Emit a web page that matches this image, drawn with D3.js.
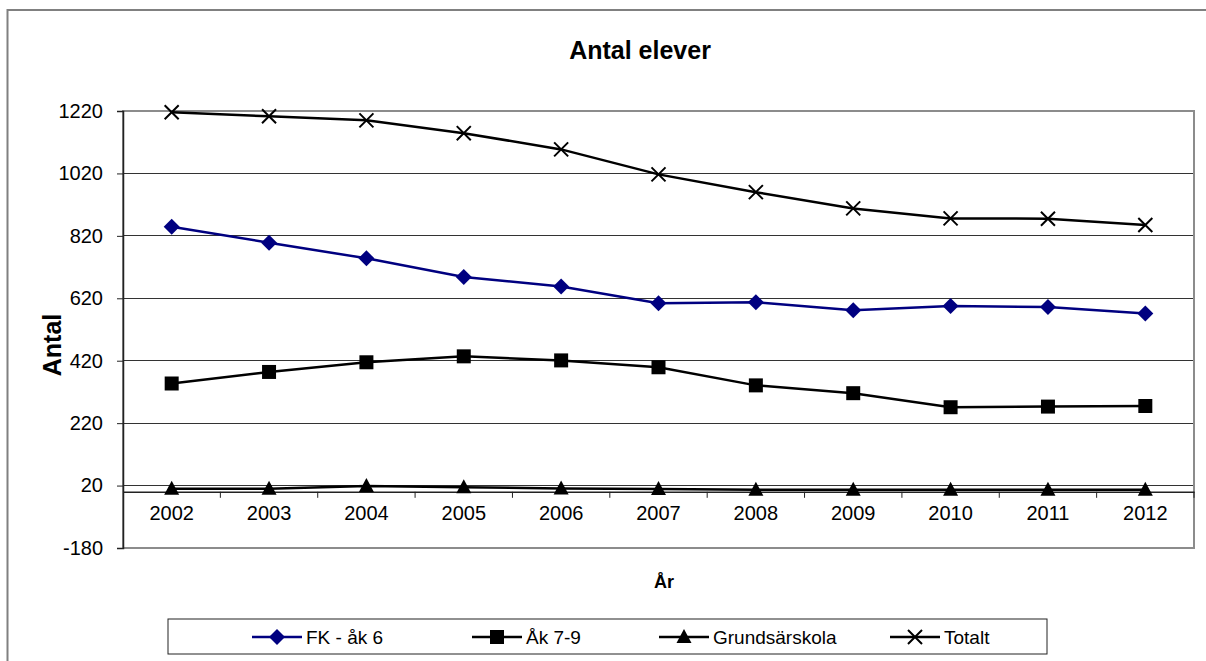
<!DOCTYPE html>
<html><head><meta charset="utf-8">
<script src="https://cdn.jsdelivr.net/npm/d3@7"></script>
<style>body{margin:0;background:#fff}svg{display:block;font-family:Arial,"Liberation Sans",sans-serif}</style>
</head><body><svg id="c" width="1206" height="661"></svg>
<script>
const years = ["2002","2003","2004","2005","2006","2007","2008","2009","2010","2011","2012"];
const fk = [849, 798, 748, 688, 658, 604, 607, 582, 595, 592, 571];
const ak79 = [347, 384, 415, 434, 421, 399, 341, 316, 271, 273, 275];
const grund = [10, 10, 19, 15, 11, 9, 7, 7, 7, 7, 7];
const totalt = [1216, 1203, 1190, 1149, 1097, 1017, 960, 908, 876, 875, 855];
const yTicks = [-180, 20, 220, 420, 620, 820, 1020, 1220];
const seriesNames = ["FK - åk 6", "Åk 7-9", "Grundsärskola", "Totalt"];

const svg = d3.select("#c");
const L = 123, R = 1194, T = 111, B = 548;
const x = d3.scaleBand().domain(years).range([L, R]);
const y = d3.scaleLinear().domain([-180, 1220]).range([B, T]);

// outer chart border
svg.append("rect").attr("x", 7.5).attr("y", 10).attr("width", 1204).attr("height", 660)
  .attr("fill", "none").attr("stroke", "#808080").attr("stroke-width", 2);

// title
svg.append("text").attr("x", 640).attr("y", 59).attr("text-anchor", "middle")
  .attr("font-size", 25).attr("font-weight", "bold").text("Antal elever");

// gridlines
svg.append("g").selectAll("line").data(yTicks.filter(d => d > -180 && d < 1220)).join("line")
  .attr("x1", L).attr("x2", R).attr("y1", d => y(d)).attr("y2", d => y(d))
  .attr("stroke", "#333").attr("stroke-width", 1).attr("shape-rendering", "crispEdges");

// plot border
svg.append("rect").attr("x", L).attr("y", T).attr("width", R - L).attr("height", B - T)
  .attr("fill", "none").attr("stroke", "#8c8c8c").attr("stroke-width", 2);

// y axis
const yAxis = d3.axisLeft(y).tickValues(yTicks).tickSize(6).tickPadding(14).tickFormat(d => String(d));
const gy = svg.append("g").attr("transform", `translate(${L},0)`).call(yAxis);
gy.select(".domain").attr("stroke", "#222").attr("stroke-width", 1.5);
gy.selectAll(".tick line").attr("stroke", "#222");
gy.selectAll("text").attr("font-size", 20).attr("font-family", "Arial, 'Liberation Sans', sans-serif").attr("fill", "#000");

// x axis at zero
const xAxis = d3.axisBottom(x).tickSize(0).tickPadding(14);
const gx = svg.append("g").attr("transform", `translate(0,${y(0)})`).call(xAxis);
gx.select(".domain").attr("stroke", "#222").attr("stroke-width", 1.5);
gx.selectAll("text").attr("font-size", 20).attr("font-family", "Arial, 'Liberation Sans', sans-serif").attr("fill", "#000");
const bounds = years.map(d => x(d)).concat([R]);
svg.append("g").selectAll("line").data(bounds.slice(1)).join("line")
  .attr("x1", d => d).attr("x2", d => d).attr("y1", y(0)).attr("y2", y(0) + 6)
  .attr("stroke", "#222").attr("stroke-width", 1);

// axis titles
svg.append("text").attr("transform", "translate(61,345) rotate(-90)").attr("text-anchor", "middle")
  .attr("font-size", 25).attr("font-weight", "bold").text("Antal");
svg.append("text").attr("x", 664).attr("y", 588).attr("text-anchor", "middle")
  .attr("font-size", 18).attr("font-weight", "bold").text("År");

const cx = d => x(d) + x.bandwidth() / 2;
const line = d3.line().x(d => cx(d[0])).y(d => y(d[1]));

const paths = {
  diamond: "M0,-8L8,0L0,8L-8,0Z",
  square: d3.symbol(d3.symbolSquare, 196)(),
  triangle: "M0,-8L7.5,6L-7.5,6Z",
  cross: d3.symbol(d3.symbolX, 130)()
};
const series = [
  {name: seriesNames[0], vals: fk, color: "#000080", marker: "diamond"},
  {name: seriesNames[1], vals: ak79, color: "#000", marker: "square"},
  {name: seriesNames[2], vals: grund, color: "#000", marker: "triangle"},
  {name: seriesNames[3], vals: totalt, color: "#000", marker: "cross"}
];

function drawMarker(g, s, px, py) {
  const p = g.append("path").attr("d", paths[s.marker]).attr("transform", `translate(${px},${py})`);
  if (s.marker === "cross") p.attr("fill", "none").attr("stroke", s.color).attr("stroke-width", 2);
  else p.attr("fill", s.color);
}

series.forEach(s => {
  const pts = years.map((yr, i) => [yr, s.vals[i]]);
  svg.append("path").datum(pts).attr("d", line).attr("fill", "none")
    .attr("stroke", s.color).attr("stroke-width", 2.5);
  const g = svg.append("g");
  pts.forEach(p => drawMarker(g, s, cx(p[0]), y(p[1])));
});

// legend
svg.append("rect").attr("x", 168).attr("y", 619).attr("width", 879).attr("height", 35)
  .attr("fill", "#fff").attr("stroke", "#222").attr("stroke-width", 1);
const legX = [252, 472, 659, 890];
series.forEach((s, i) => {
  const g = svg.append("g");
  const x0 = legX[i], x1 = x0 + 50, ly = 637;
  g.append("line").attr("x1", x0).attr("x2", x1).attr("y1", ly).attr("y2", ly)
    .attr("stroke", s.color).attr("stroke-width", 2.5);
  drawMarker(g, s, (x0 + x1) / 2, ly);
  g.append("text").attr("x", x1 + 4).attr("y", ly + 7).attr("font-size", 19).text(s.name);
});
</script></body></html>
